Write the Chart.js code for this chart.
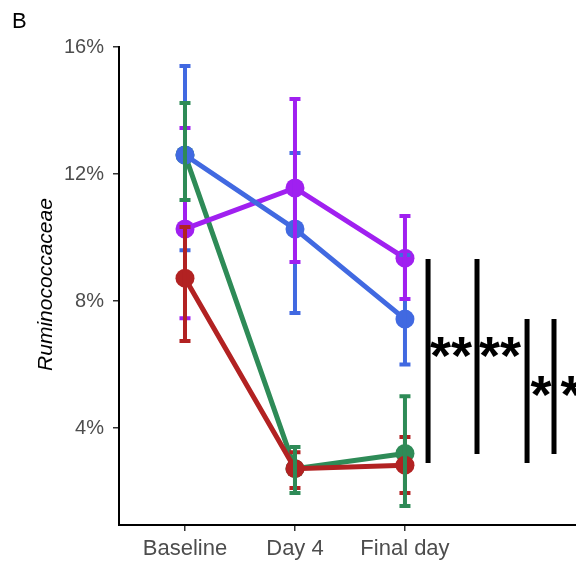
<!DOCTYPE html>
<html>
<head>
<meta charset="utf-8">
<script src="https://cdn.jsdelivr.net/npm/chart.js@4"></script>
<style>
  body { margin: 0; background: #fff; }
  canvas { display: block; }
</style>
</head>
<body>
<canvas id="myChart" width="576" height="570"></canvas>
<script>
const categories = ['Baseline', 'Day 4', 'Final day'];
const yTicks = [4, 8, 12, 16];

const blueMean = [12.6, 10.27, 7.43];
const blueLow = [9.6, 7.62, 6.0];
const blueHigh = [15.4, 12.66, 9.45];

const purpleMean = [10.27, 11.56, 9.35];
const purpleLow = [7.46, 9.23, 8.06];
const purpleHigh = [13.45, 14.36, 10.68];

const redMean = [8.72, 2.72, 2.83];
const redLow = [6.74, 2.11, 1.95];
const redHigh = [10.33, 3.24, 3.72];

const greenMean = [12.6, 2.72, 3.2];
const greenLow = [11.18, 1.95, 1.54];
const greenHigh = [14.24, 3.4, 5.0];

// significance brackets (x in category units, past the last category)
const sigX = [3.21, 3.655, 4.11, 4.355];
const sigLow = [2.9, 3.18, 2.9, 3.18];
const sigHigh = [9.32, 9.32, 7.43, 7.43];
const sigLabelX = [3.418, 3.864, 4.236, 4.509];
const sigLabelY = [6.55, 6.55, 5.32, 5.32];
const sigLabels = ['**', '**', '*', '*'];

const groups = [
  { color: '#4169E1', mean: blueMean, low: blueLow, high: blueHigh },
  { color: '#A020F0', mean: purpleMean, low: purpleLow, high: purpleHigh },
  { color: '#B22222', mean: redMean, low: redLow, high: redHigh },
  { color: '#2E8B57', mean: greenMean, low: greenLow, high: greenHigh },
];

const toPoints = (arr) => arr.map((v, i) => ({ x: i + 1, y: v }));

const errorBars = {
  id: 'errorBars',
  afterDatasetsDraw(chart) {
    const { ctx, scales: { x, y } } = chart;
    ctx.save();
    groups.forEach((g) => {
      ctx.strokeStyle = g.color;
      ctx.lineWidth = 4;
      g.mean.forEach((m, i) => {
        const px = x.getPixelForValue(i + 1);
        const top = y.getPixelForValue(g.high[i]);
        const bot = y.getPixelForValue(g.low[i]);
        ctx.beginPath();
        ctx.moveTo(px, top);
        ctx.lineTo(px, bot);
        ctx.moveTo(px - 5.5, top);
        ctx.lineTo(px + 5.5, top);
        ctx.moveTo(px - 5.5, bot);
        ctx.lineTo(px + 5.5, bot);
        ctx.stroke();
      });
    });
    // significance bars
    ctx.strokeStyle = '#000';
    ctx.fillStyle = '#000';
    ctx.lineWidth = 5;
    ctx.font = 'bold 54px "Liberation Sans", Arial, sans-serif';
    ctx.textAlign = 'left';
    ctx.textBaseline = 'alphabetic';
    sigX.forEach((sx, i) => {
      const px = x.getPixelForValue(sx);
      const top = y.getPixelForValue(sigHigh[i]);
      const bot = y.getPixelForValue(sigLow[i]);
      ctx.beginPath();
      ctx.moveTo(px, top);
      ctx.lineTo(px, bot);
      ctx.stroke();
      const m = ctx.measureText(sigLabels[i]);
      const cx = x.getPixelForValue(sigLabelX[i]);
      const cy = y.getPixelForValue(sigLabelY[i]);
      const inkW = m.actualBoundingBoxLeft + m.actualBoundingBoxRight;
      const base = cy + (m.actualBoundingBoxAscent - m.actualBoundingBoxDescent) / 2;
      ctx.fillText(sigLabels[i], cx - inkW / 2 + m.actualBoundingBoxLeft, base);
    });
    ctx.restore();
  },
};

const labelsPlugin = {
  id: 'labelsPlugin',
  afterDraw(chart) {
    const { ctx } = chart;
    ctx.save();
    ctx.fillStyle = '#000';
    ctx.font = '22px "Liberation Sans", Arial, sans-serif';
    ctx.textAlign = 'left';
    ctx.textBaseline = 'alphabetic';
    ctx.fillText('B', 12, 28);
    ctx.translate(46, 284.5);
    ctx.rotate(-Math.PI / 2);
    ctx.textAlign = 'center';
    ctx.textBaseline = 'middle';
    ctx.font = 'italic 21px "Liberation Sans", Arial, sans-serif';
    ctx.fillText('Ruminococcaceae', 0, 0);
    ctx.restore();
  },
};

const myChartRef = document.getElementById('myChart').getContext('2d');
new Chart(myChartRef, {
  type: 'line',
  data: {
    datasets: groups.map((g) => ({
      data: toPoints(g.mean),
      borderColor: g.color,
      backgroundColor: g.color,
      borderWidth: 5,
      pointRadius: 9.5,
      pointBorderWidth: 0,
      pointHoverRadius: 9.5,
      tension: 0,
      clip: false,
    })),
  },
  options: {
    animation: false,
    responsive: false,
    events: [],
    layout: { autoPadding: false, padding: { top: 47, left: 0, right: 0, bottom: 0 } },
    plugins: { legend: { display: false }, tooltip: { enabled: false } },
    scales: {
      x: {
        type: 'linear',
        min: 0.4,
        max: 4.555,
        afterBuildTicks: (scale) => { scale.ticks = [1, 2, 3].map((v) => ({ value: v })); },
        afterFit: (scale) => {
          scale.height = 45;
          scale.paddingLeft = 0;
          scale.paddingRight = 0;
        },
        ticks: {
          callback: (v) => categories[v - 1],
          color: '#4d4d4d',
          font: { size: 22, family: '"Liberation Sans", Arial, sans-serif' },
          padding: 5,
          maxRotation: 0,
        },
        grid: { display: true, drawOnChartArea: false, drawTicks: true, tickLength: 6, color: '#333', lineWidth: 1.5 },
        border: { display: true, color: '#000', width: 2 },
      },
      y: {
        min: 0.945,
        max: 16,
        afterBuildTicks: (scale) => { scale.ticks = yTicks.map((v) => ({ value: v })); },
        afterFit: (scale) => {
          scale.width = 119;
          scale.paddingTop = 0;
          scale.paddingBottom = 0;
        },
        ticks: {
          callback: (v) => v + '%',
          color: '#4d4d4d',
          font: { size: 20, family: '"Liberation Sans", Arial, sans-serif' },
          padding: 9,
        },
        grid: { display: true, drawOnChartArea: false, drawTicks: true, tickLength: 6, color: '#333', lineWidth: 1.5 },
        border: { display: true, color: '#000', width: 2 },
      },
    },
  },
  plugins: [errorBars, labelsPlugin],
});
</script>
</body>
</html>
